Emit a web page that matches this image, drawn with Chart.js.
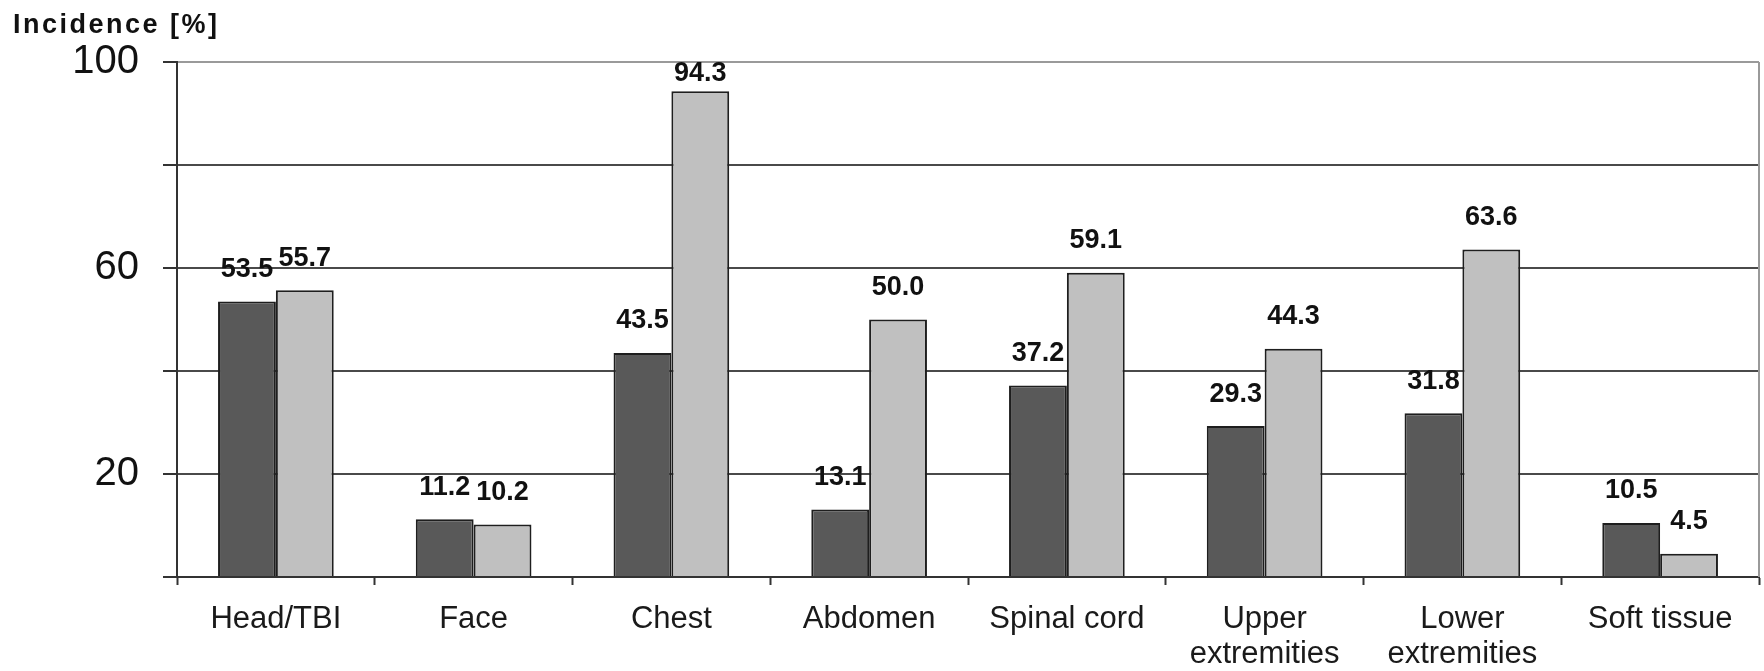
<!DOCTYPE html>
<html>
<head>
<meta charset="utf-8">
<script src="https://cdn.jsdelivr.net/npm/chart.js@4/dist/chart.umd.min.js"></script>
<style>
  html, body { margin: 0; padding: 0; background: #fff; }
  #wrap { width: 1764px; height: 671px; position: relative; }
</style>
</head>
<body>
<div id="wrap"><canvas id="chart"></canvas></div>
<script>
// Injury regions along the x axis
const categories = [
  'Head/TBI', 'Face', 'Chest', 'Abdomen', 'Spinal cord',
  ['Upper', 'extremities'], ['Lower', 'extremities'], 'Soft tissue'
];
// Incidence (%) for the two groups
const seriesDark  = [53.5, 11.2, 43.5, 13.1, 37.2, 29.3, 31.8, 10.5];
const seriesLight = [55.7, 10.2, 94.3, 50.0, 59.1, 44.3, 63.6, 4.5];
// Y values that carry a printed tick label
const labelledTicks = [20, 60, 100];
const yAxisTitle = 'Incidence [%]';

const FONT = "'Liberation Sans', Arial, sans-serif";

// Value printed above each bar
const valueLabels = {
  id: 'valueLabels',
  afterDatasetsDraw(chart) {
    const { ctx, chartArea } = chart;
    ctx.save();
    ctx.font = `bold 27px ${FONT}`;
    ctx.fillStyle = '#111';
    ctx.textAlign = 'center';
    ctx.textBaseline = 'middle';
    chart.data.datasets.forEach((ds, di) => {
      const meta = chart.getDatasetMeta(di);
      meta.data.forEach((bar, i) => {
        const y = Math.max(bar.y - 32, chartArea.top + 12);
        ctx.fillText(ds.data[i].toFixed(1), bar.x, y);
      });
    });
    ctx.restore();
  }
};

// Axis caption in the top-left corner and the right frame edge
const frame = {
  id: 'frame',
  afterDraw(chart) {
    const { ctx, chartArea } = chart;
    ctx.save();
    ctx.strokeStyle = '#9a9a9a';
    ctx.lineWidth = 2;
    ctx.beginPath();
    ctx.moveTo(chartArea.right, chartArea.top);
    ctx.lineTo(chartArea.right, chartArea.bottom);
    ctx.stroke();

    ctx.font = `bold 27px ${FONT}`;
    ctx.fillStyle = '#111';
    ctx.textAlign = 'left';
    ctx.textBaseline = 'alphabetic';
    if ('letterSpacing' in ctx) ctx.letterSpacing = '2.5px';
    ctx.fillText(yAxisTitle, 13, 33);
    ctx.restore();
  }
};

new Chart(document.getElementById('chart'), {
  type: 'bar',
  data: {
    labels: categories,
    datasets: [
      {
        data: seriesDark,
        backgroundColor: '#595959',
        borderColor: '#1e1e1e',
        borderWidth: 2
      },
      {
        data: seriesLight,
        backgroundColor: '#c0c0c0',
        borderColor: '#1e1e1e',
        borderWidth: 2
      }
    ]
  },
  options: {
    responsive: true,
    maintainAspectRatio: false,
    animation: false,
    layout: { padding: { top: 62, right: 5, left: 0, bottom: 0 } },
    categoryPercentage: 0.585,
    barPercentage: 1.0,
    plugins: {
      legend: { display: false },
      tooltip: { enabled: false },
      title: { display: false }
    },
    scales: {
      x: {
        offset: true,
        grid: {
          display: true,
          offset: true,
          drawOnChartArea: false,
          drawTicks: true,
          tickLength: 8,
          tickColor: '#333',
          tickWidth: 2
        },
        border: { display: true, color: '#333', width: 2 },
        ticks: {
          color: '#1a1a1a',
          padding: 17,
          maxRotation: 0,
          autoSkip: false,
          font: { family: FONT, size: 31, lineHeight: '35px' }
        },
        afterFit(scale) { scale.height = 94; }
      },
      y: {
        min: 0,
        max: 100,
        ticks: {
          stepSize: 20,
          color: '#111',
          padding: 24,
          font: { family: FONT, size: 40 },
          callback: (v) => (labelledTicks.includes(v) ? String(v) : '')
        },
        grid: {
          color: (c) => (c.tick && c.tick.value === 100 ? '#9a9a9a' : '#4a4a4a'),
          lineWidth: 2,
          drawTicks: true,
          tickLength: 14,
          tickColor: '#333',
          tickWidth: 2
        },
        border: { display: true, color: '#333', width: 2 },
        afterFit(scale) { scale.width = 177; }
      }
    }
  },
  plugins: [valueLabels, frame]
});
</script>
</body>
</html>
